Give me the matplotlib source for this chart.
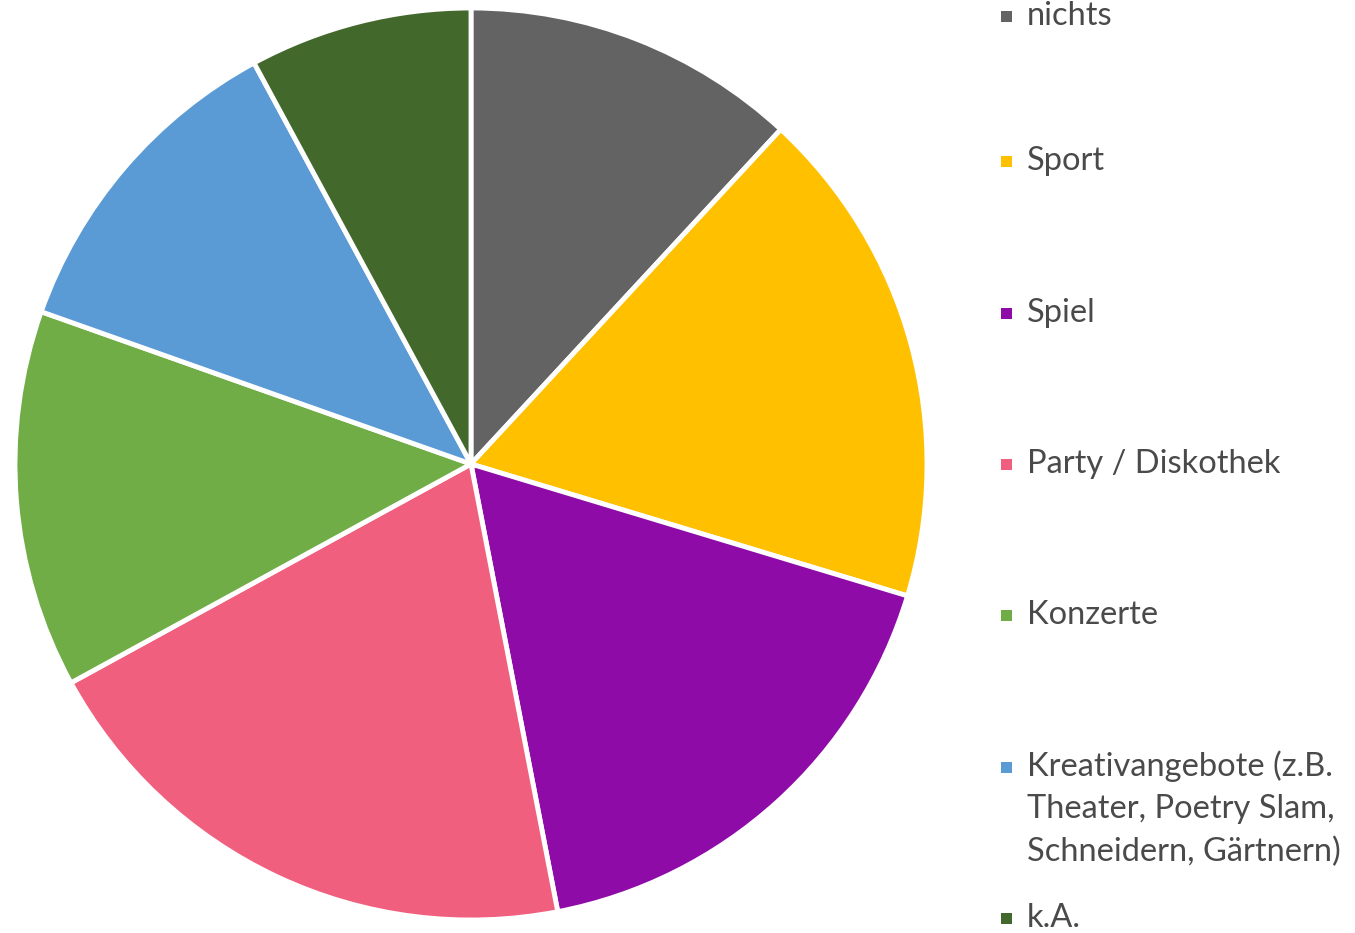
import matplotlib
matplotlib.use("Agg")
import matplotlib.pyplot as plt
from matplotlib.patches import Rectangle

categories = ["nichts", "Sport", "Spiel", "Party / Diskothek", "Konzerte",
              "Kreativangebote (z.B.\nTheater, Poetry Slam,\nSchneidern, Gärtnern)", "k.A."]
values = [11.9, 17.8, 17.3, 20.1, 13.4, 11.7, 7.9]
colors = ["#636363", "#FFC000", "#8E0BA8", "#F15F7E", "#70AD47", "#5B9BD5", "#43682B"]

W, H = 1355, 933
fig = plt.figure(figsize=(W / 100, H / 100), dpi=100)
cx, cy, r = 471, 464, 456
ax = fig.add_axes([(cx - r) / W, (H - cy - r) / H, 2 * r / W, 2 * r / H])
ax.pie(values, colors=colors, startangle=90, counterclock=False, radius=1,
       wedgeprops=dict(edgecolor="white", linewidth=3.5))
ax.set_xlim(-1, 1)
ax.set_ylim(-1, 1)
ax.set_aspect("auto")
ax.axis("off")

txt_color = "#4a4a4a"
x_sq, x_txt = 1001, 1027
base0, step, lh = 19, 151.3, 43
for i, (lab, col) in enumerate(zip(categories, colors)):
    b = base0 + i * step
    if i == 0:
        b = 25  # keep the top entry fully inside the canvas
    fig.patches.append(Rectangle(((x_sq) / W, (H - (b - 3)) / H), 11 / W, 11 / H,
                                 transform=fig.transFigure, facecolor=col, edgecolor="none"))
    for j, line in enumerate(lab.split("\n")):
        fig.text(x_txt / W, (H - (b + j * lh)) / H, line, fontsize=23.5, family="Lato",
                 color=txt_color, ha="left", va="baseline")

fig.savefig("out.png", dpi=100, facecolor="white")
